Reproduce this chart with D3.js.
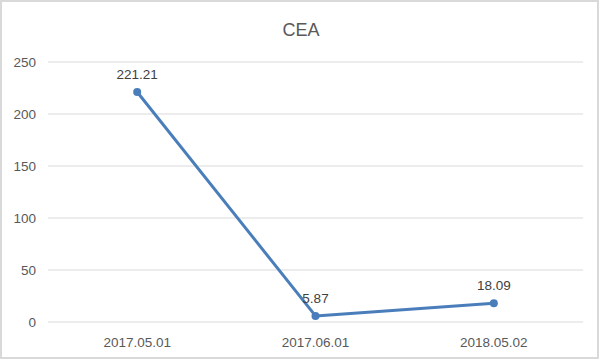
<!DOCTYPE html>
<html>
<head>
<meta charset="utf-8">
<script src="https://cdn.jsdelivr.net/npm/d3@7"></script>
<style>
  body { margin: 0; background: #fff; }
  text { font-family: "Liberation Sans", Arial, sans-serif; }
</style>
</head>
<body>
<svg id="chart" width="602" height="362"></svg>
<script>
// data
const dates = ['2017.05.01', '2017.06.01', '2018.05.02'];
const values = [221.21, 5.87, 18.09];
const yTicks = [0, 50, 100, 150, 200, 250];

const width = 602, height = 362;
const margin = { top: 62, right: 19, bottom: 40, left: 48 };

const svg = d3.select('#chart');

// chart frame
svg.append('rect')
  .attr('x', 1).attr('y', 1)
  .attr('width', width - 5).attr('height', height - 5)
  .attr('fill', '#fff')
  .attr('stroke', '#d9d9d9')
  .attr('stroke-width', 2);

const x = d3.scaleBand()
  .domain(dates)
  .range([margin.left, width - margin.right]);

const y = d3.scaleLinear()
  .domain([0, 250])
  .range([height - margin.bottom, margin.top]);

// gridlines
svg.append('g')
  .selectAll('line')
  .data(yTicks)
  .join('line')
  .attr('x1', margin.left)
  .attr('x2', width - margin.right)
  .attr('y1', d => y(d))
  .attr('y2', d => y(d))
  .attr('stroke', '#d9d9d9')
  .attr('stroke-width', 1);

// y labels
svg.append('g')
  .selectAll('text')
  .data(yTicks)
  .join('text')
  .attr('x', 36)
  .attr('y', d => y(d))
  .attr('dy', '0.35em')
  .attr('text-anchor', 'end')
  .attr('fill', '#595959')
  .attr('font-size', 13.5)
  .text(d => d);

// x labels
svg.append('g')
  .selectAll('text')
  .data(dates)
  .join('text')
  .attr('x', d => x(d) + x.bandwidth() / 2)
  .attr('y', height - margin.bottom + 20)
  .attr('dy', '0.35em')
  .attr('text-anchor', 'middle')
  .attr('fill', '#595959')
  .attr('font-size', 13.5)
  .text(d => d);

// title
svg.append('text')
  .attr('x', width / 2)
  .attr('y', 30)
  .attr('dy', '0.35em')
  .attr('text-anchor', 'middle')
  .attr('fill', '#595959')
  .attr('font-size', 18)
  .text('CEA');

const pts = dates.map((d, i) => [x(d) + x.bandwidth() / 2, y(values[i])]);

svg.append('path')
  .datum(pts)
  .attr('d', d3.line())
  .attr('fill', 'none')
  .attr('stroke', '#4a7ebb')
  .attr('stroke-width', 3)
  .attr('stroke-linejoin', 'round');

svg.append('g')
  .selectAll('circle')
  .data(pts)
  .join('circle')
  .attr('cx', d => d[0])
  .attr('cy', d => d[1])
  .attr('r', 4)
  .attr('fill', '#4a7ebb');

// data labels
svg.append('g')
  .selectAll('text')
  .data(pts)
  .join('text')
  .attr('x', d => d[0])
  .attr('y', d => d[1] - 18)
  .attr('dy', '0.35em')
  .attr('text-anchor', 'middle')
  .attr('fill', '#404040')
  .attr('font-size', 13.5)
  .text((d, i) => values[i].toFixed(2));
</script>
</body>
</html>
